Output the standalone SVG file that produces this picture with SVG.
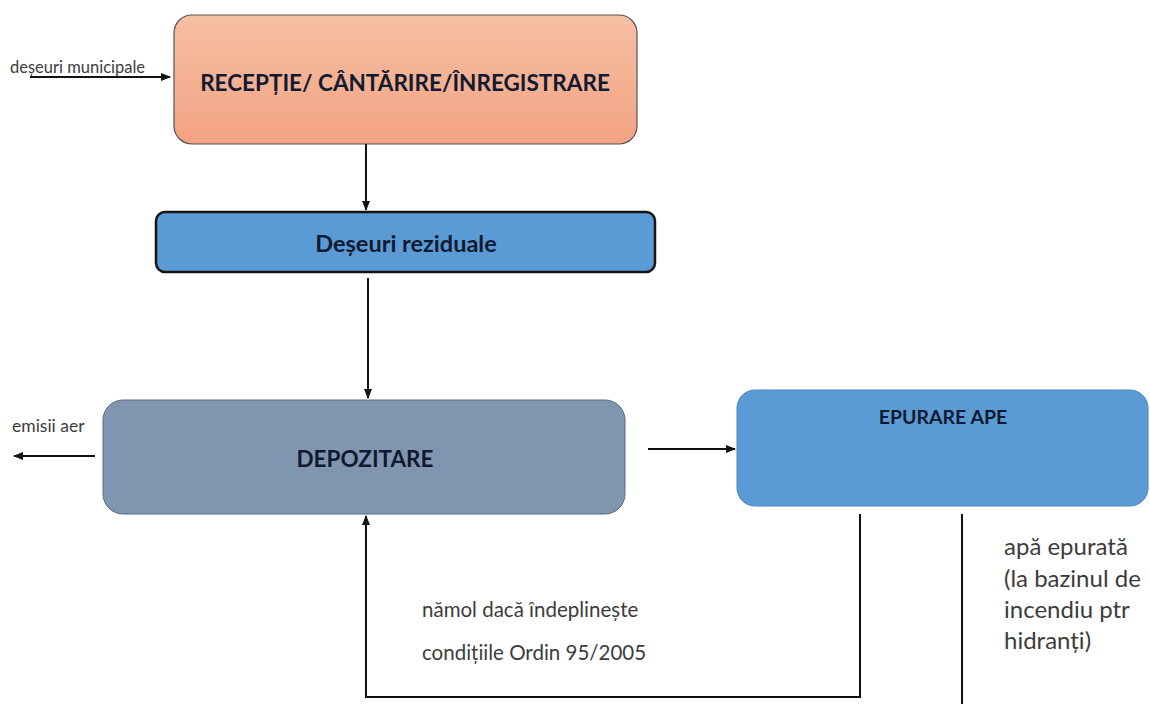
<svg xmlns="http://www.w3.org/2000/svg" width="1150" height="704" viewBox="0 0 1150 704">
<defs>
<linearGradient id="gTop" x1="0" y1="0" x2="0" y2="1">
<stop offset="0" stop-color="#f6bfa3"/>
<stop offset="1" stop-color="#f3a283"/>
</linearGradient>
<marker id="ah" viewBox="0 0 10 10" refX="9" refY="5" markerWidth="10" markerHeight="8" markerUnits="userSpaceOnUse" orient="auto" preserveAspectRatio="none">
<path d="M0,0 L10,5 L0,10 z" fill="#111"/>
</marker>
<style>
.lbl{font-family:Lato,"Open Sans","Liberation Sans",sans-serif;font-weight:bold;fill:#101a30;text-anchor:middle}
.txt{font-family:Lato,"Open Sans","Liberation Sans",sans-serif;fill:#3c3c3c}
.con{fill:none;stroke:#111;stroke-width:2}
</style>
</defs>
<rect width="1150" height="704" fill="#fff"/>
<g id="receptie">
<rect x="174" y="15" width="463" height="129" rx="18" fill="url(#gTop)" stroke="#555" stroke-width="1.2"/>
<text class="lbl" x="405" y="91" font-size="22.5">RECEPȚIE/ CÂNTĂRIRE/ÎNREGISTRARE</text>
</g>
<g id="deseuri-reziduale">
<rect x="156" y="212" width="499" height="60" rx="9" fill="#5b9bd5" stroke="#151515" stroke-width="2.5"/>
<text class="lbl" x="406" y="252" font-size="23.5">Deșeuri reziduale</text>
</g>
<g id="depozitare">
<rect x="103" y="400" width="522" height="114" rx="20" fill="#8096b0" stroke="#5a6a80" stroke-width="1"/>
<text class="lbl" x="365" y="467" font-size="22.5">DEPOZITARE</text>
</g>
<g id="epurare">
<rect x="737" y="390" width="411" height="116" rx="18" fill="#5b9bd5" stroke="#4a86c0" stroke-width="1"/>
<text class="lbl" x="943" y="424" font-size="19.5">EPURARE APE</text>
</g>
<g id="connectors">
<line class="con" x1="30" y1="77" x2="170" y2="77" stroke-width="2.5" marker-end="url(#ah)"/>
<line class="con" x1="366" y1="144" x2="366" y2="210" marker-end="url(#ah)"/>
<line class="con" x1="368" y1="278" x2="368" y2="398" marker-end="url(#ah)"/>
<line class="con" x1="95" y1="456" x2="14" y2="456" stroke-width="2.5" marker-end="url(#ah)"/>
<line class="con" x1="648" y1="449" x2="735" y2="449" marker-end="url(#ah)"/>
<polyline class="con" points="860,514 860,697 366,697 366,516" marker-end="url(#ah)"/>
<line class="con" x1="962" y1="514" x2="962" y2="704"/>
</g>
<g id="labels">
<text class="txt" x="10" y="73" font-size="16.5">deșeuri municipale</text>
<text class="txt" x="12" y="432" font-size="17.5">emisii aer</text>
<text class="txt" x="422" y="617" font-size="20.5">nămol dacă îndeplinește</text>
<text class="txt" x="422" y="660" font-size="20.5">condițiile Ordin 95/2005</text>
<text class="txt" x="1004" y="555" font-size="24">apă epurată</text>
<text class="txt" x="1004" y="587" font-size="24">(la bazinul de</text>
<text class="txt" x="1004" y="618" font-size="24">incendiu ptr</text>
<text class="txt" x="1004" y="649" font-size="24">hidranți)</text>
</g>
</svg>
